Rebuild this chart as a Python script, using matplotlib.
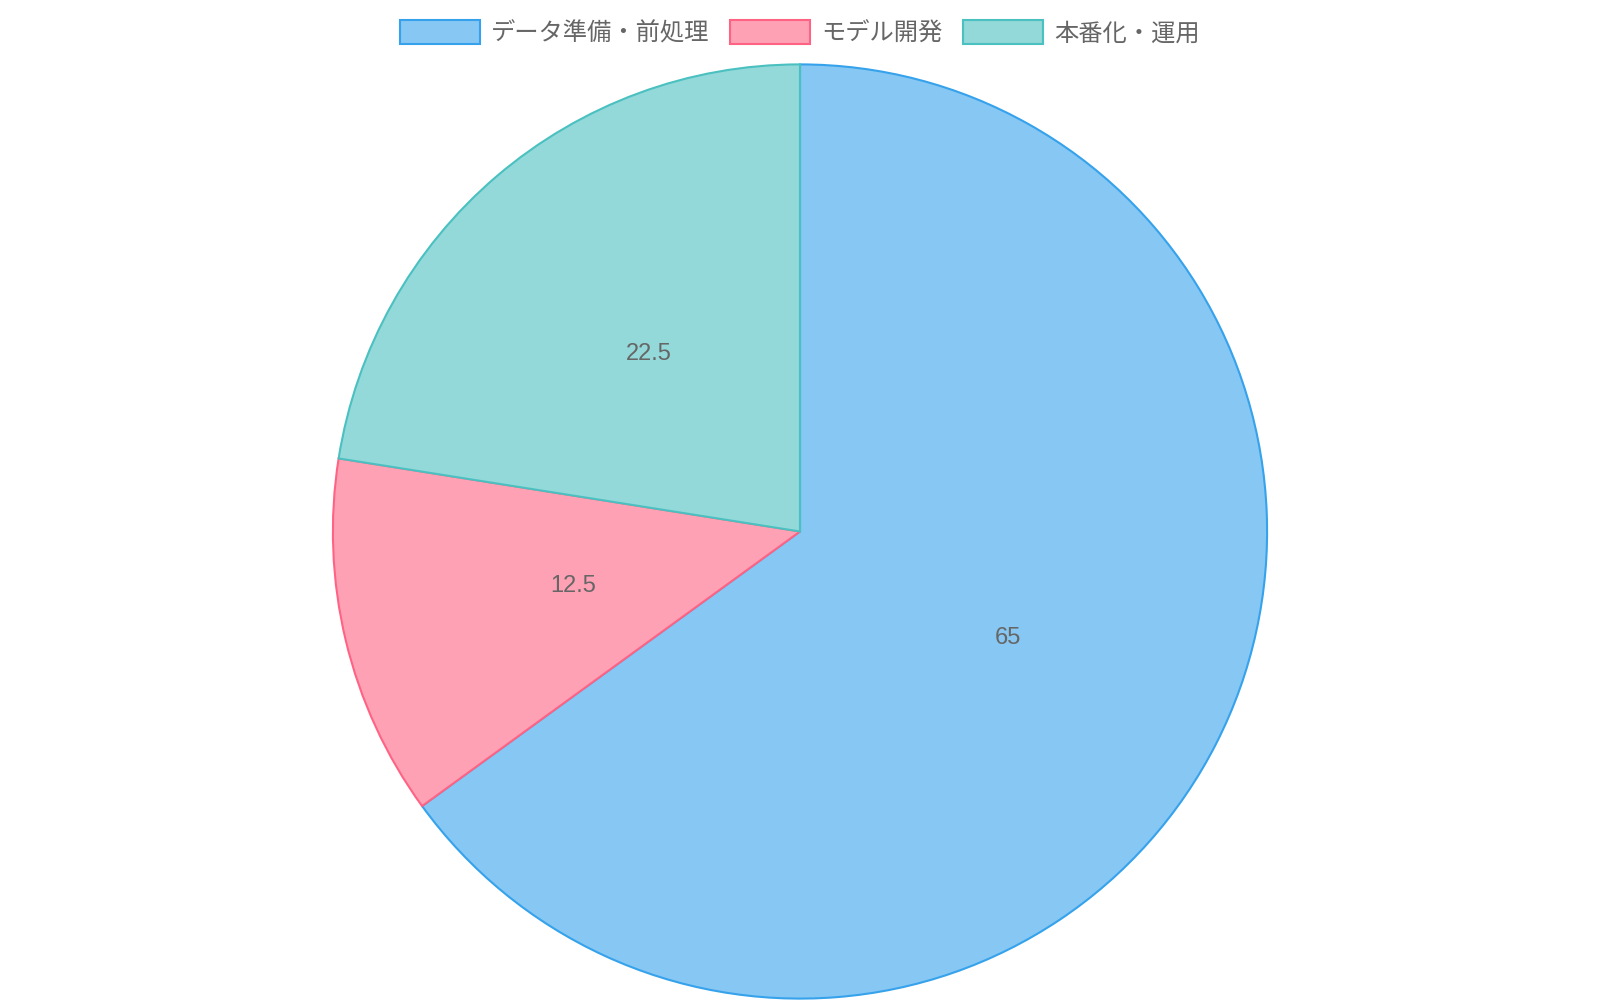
import matplotlib
matplotlib.use("Agg")
import matplotlib.pyplot as plt

labels = ["データ準備・前処理", "モデル開発", "本番化・運用"]
values = [65, 12.5, 22.5]
fills = ["#86c7f3", "#ffa1b5", "#93d9d9"]
edges = ["#36a2eb", "#ff6384", "#4bc0c0"]

plt.rcParams['font.family'] = ['Liberation Sans', 'Noto Sans CJK JP', 'DejaVu Sans']
text_col = "#666666"

fig = plt.figure(figsize=(16, 10), dpi=100)
h = 0.937
w = h * 10 / 16
ax = fig.add_axes([0.5 - w / 2, 0.0, w, h])

total = sum(values)
wedges, _, autotexts = ax.pie(
    values, colors=fills, startangle=90, counterclock=False,
    radius=1, pctdistance=0.5,
    autopct=lambda p: f"{p * total / 100:g}",
    wedgeprops=dict(linewidth=1.5),
    textprops=dict(color=text_col, fontsize=17),
)
for wd, ec in zip(wedges, edges):
    wd.set_edgecolor(ec)
ax.set_xlim(-1.003, 1.003)
ax.set_ylim(-1.003, 1.003)
ax.set_aspect('equal')
ax.axis('off')

leg = fig.legend(wedges, labels, loc='upper center', bbox_to_anchor=(0.5, 0.995),
                 ncol=3, frameon=False, fontsize=17.5, handlelength=3.3,
                 handleheight=1.2, handletextpad=0.45, columnspacing=0.85,
                 labelcolor=text_col, borderaxespad=0.2)

fig.savefig('out.png', dpi=100)
